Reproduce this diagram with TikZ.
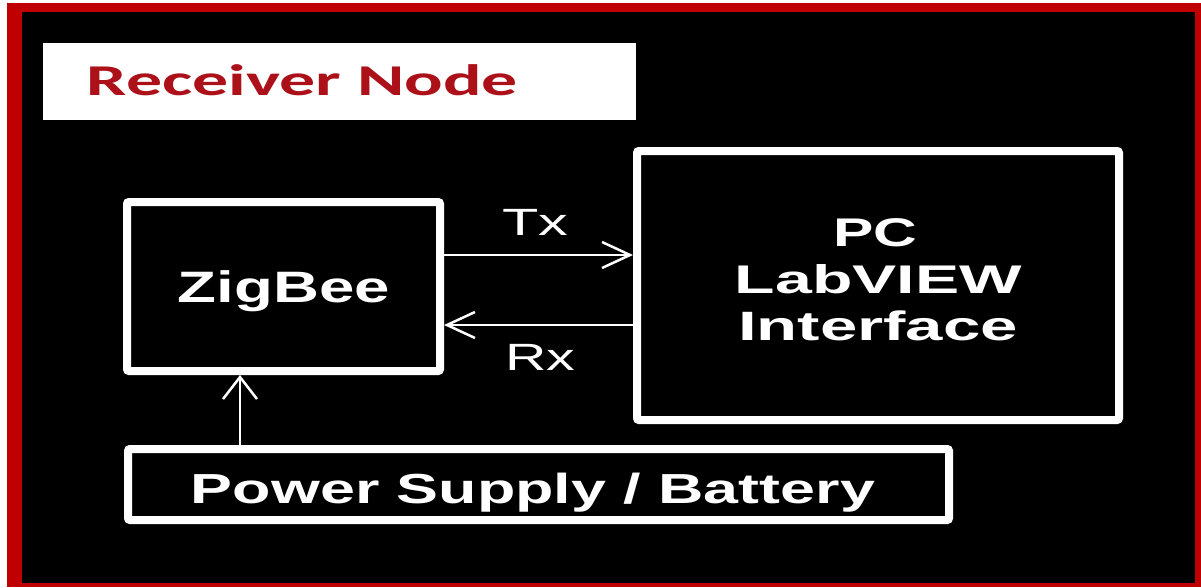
\documentclass[tikz,border=0pt]{standalone}
\usepackage{fontspec}
\setmainfont{Liberation Sans}
\newfontfamily\titlefont{Carlito}
\usepackage{graphicx}
\usetikzlibrary{arrows.meta}
\definecolor{framered}{RGB}{192,0,0}
\definecolor{titlered}{RGB}{172,16,24}
\newcommand\sw[2]{\resizebox{#1pt}{\height}{#2}}
\tikzset{
  blockbox/.style={draw=white, line width=8pt, rounded corners=2pt, inner sep=0pt, fill=black},
  lbl/.style={text=white, inner sep=0pt, anchor=base},
  link/.style={draw=white, line width=2.5pt, -{Straight Barb[length=28pt,width=26pt]}},
  uplink/.style={draw=white, line width=2.5pt, -{Straight Barb[length=22pt,width=34pt]}},
}
\begin{document}
\begin{tikzpicture}[x=1pt,y=-1pt]
\useasboundingbox (0,0) rectangle (1201,587);
\fill[white] (0,0) rectangle (1201,587);
\fill[framered] (7,3) rectangle (1201,587);
\fill[black] (22,12) rectangle (1195,583);
% title
\node[fill=white, inner sep=0pt, minimum width=593pt, minimum height=77pt] (titlebox) at (339.5,81.5) {};
\node[text=titlered, inner sep=0pt, anchor=base, font=\titlefont\bfseries\fontsize{44}{46}\selectfont] (title) at (302.5,95.5) {\sw{431}{Receiver Node}};
% blocks
\node[blockbox, minimum width=313pt, minimum height=169pt] (zig) at (283.5,286.5) {};
\node[blockbox, minimum width=482pt, minimum height=269pt] (pc) at (878,285.5) {};
\node[blockbox, minimum width=821pt, minimum height=71pt] (pow) at (538.5,484.5) {};
% labels
\node[lbl, font=\bfseries\fontsize{44}{46}\selectfont] (zigt) at (284,302) {\sw{212}{ZigBee}};
\node[lbl, font=\bfseries\fontsize{40}{42}\selectfont] (pct1) at (875,246) {\sw{84}{PC}};
\node[lbl, font=\bfseries\fontsize{40}{42}\selectfont] (pct2) at (878.5,293) {\sw{287}{LabVIEW}};
\node[lbl, font=\bfseries\fontsize{41}{43}\selectfont] (pct3) at (878,340) {\sw{280}{Interface}};
\node[lbl, font=\bfseries\fontsize{42}{44}\selectfont] (powt) at (533,503) {\sw{684}{Power Supply / Battery}};
% connectors
\coordinate (txy) at (0,255);
\coordinate (rxy) at (0,325);
\coordinate (upx) at (240,0);
\draw[link] (zig.east |- txy) -- (pc.west |- txy);
\draw[link] (pc.west |- rxy) -- (zig.east |- rxy);
\draw[uplink] (upx |- pow.north) -- (upx |- zig.south);
\node[lbl, font=\fontsize{38}{40}\selectfont] (tx) at (535,235) {\sw{66}{Tx}};
\node[lbl, font=\fontsize{38}{40}\selectfont] (rx) at (540,370) {\sw{70}{Rx}};
\end{tikzpicture}
\end{document}
